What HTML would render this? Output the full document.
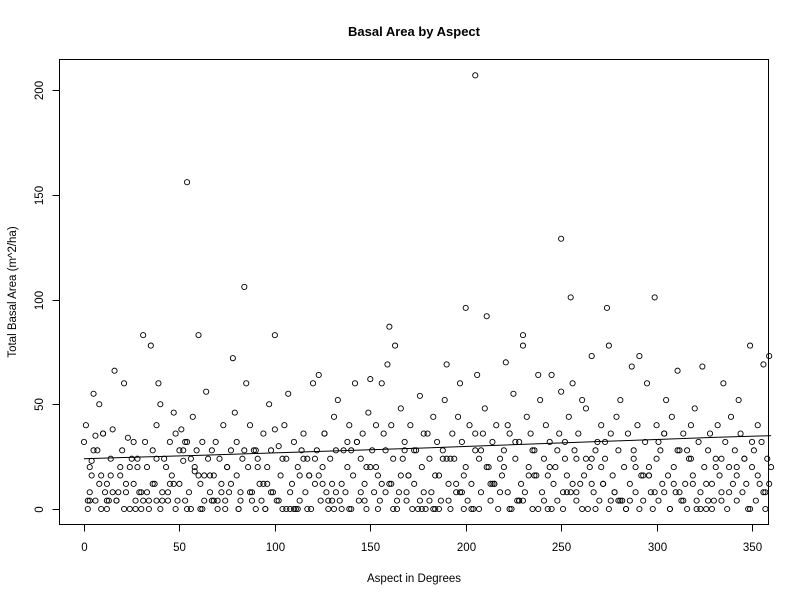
<!DOCTYPE html>
<html><head><meta charset="utf-8"><style>
html,body{margin:0;padding:0;background:#fff}
svg text{font-family:"Liberation Sans",Arial,sans-serif;fill:#000}
</style></head><body>
<svg id="chart" width="800" height="600" xmlns="http://www.w3.org/2000/svg">
<rect x="0" y="0" width="800" height="600" fill="#fff"/>
<text x="414" y="36" text-anchor="middle" font-size="13" font-weight="bold">Basal Area by Aspect</text>
<text x="414" y="582" text-anchor="middle" font-size="11.5">Aspect in Degrees</text>
<text transform="translate(16,292) rotate(-90)" text-anchor="middle" font-size="11.5">Total Basal Area (m^2/ha)</text>
<rect x="59.5" y="59.5" width="709" height="465" fill="none" stroke="#000" stroke-width="1"/>
<g id="xaxis"></g>
<g id="yaxis"></g>
<g id="points"></g>
<g id="trend"></g>
</svg>
<script>
const xTicks=[0,50,100,150,200,250,300,350];
const yTicks=[0,50,100,150,200];
const aspectX=[
0,1,2,3,3,4,5,6,6,7,8,9,10,11,12,12,13,14,15,16,17,18,19,20,21,22,23,24,25,26,27,28,29,30,31,31,32,33,34,35,36,37,38,38,39,40,
41,42,43,44,45,46,47,48,49,50,50,51,52,53,54,54,55,56,57,58,59,60,61,62,62,63,64,65,66,67,68,69,70,71,72,73,74,75,76,77,78,79,80,81,82,83,84,85,86,87,88,89,90,
91,92,93,94,95,96,97,98,99,100,100,101,102,103,104,105,106,107,108,109,110,111,112,113,114,115,116,117,118,119,120,121,122,123,124,125,126,127,128,129,130,131,132,133,134,135,
136,137,138,139,140,141,142,143,144,145,146,147,148,149,150,151,152,153,154,155,156,157,158,159,160,160,161,162,163,164,165,166,167,168,169,170,171,172,173,174,175,176,177,178,179,180,
181,182,183,184,185,186,187,188,189,190,191,192,193,194,195,196,197,198,199,200,200,201,202,203,204,205,205,206,207,208,209,210,211,212,213,214,215,216,217,218,219,220,221,222,223,224,225,
226,227,228,229,230,230,231,232,233,234,235,236,237,238,239,240,241,242,243,244,245,246,247,248,249,250,250,251,252,253,254,255,255,256,257,258,259,260,261,262,263,264,265,266,267,268,269,270,
271,272,273,274,275,275,276,277,278,279,280,281,282,283,284,285,286,287,288,289,290,291,292,293,294,295,296,297,298,299,300,300,301,302,303,304,305,306,307,308,309,310,311,312,313,314,315,
316,317,318,319,320,321,322,323,324,325,326,327,328,329,330,331,332,333,334,335,336,337,338,339,340,341,342,343,344,345,346,347,348,349,350,351,352,353,354,355,356,357,358,359,360,
2,8,14,22,28,36,44,52,58,66,72,80,88,94,104,112,118,126,132,140,148,156,164,170,178,186,192,198,208,214,222,228,236,244,252,258,266,272,280,288,296,304,312,318,326,334,342,350,356,
5,12,19,26,33,41,48,56,63,70,77,84,91,98,106,113,121,128,135,143,150,158,166,173,181,188,195,203,211,218,226,233,241,248,256,263,271,278,286,293,301,309,316,323,331,338,346,353,359,
4,10,17,24,30,38,45,53,60,68,75,82,90,96,108,115,123,130,138,145,153,161,168,176,184,190,197,205,213,220,228,235,243,251,258,266,273,281,289,296,304,311,319,327,334,342,349,357,
3,9,15,21,27,34,40,47,54,61,67,74,81,87,95,102,110,117,125,131,139,147,154,162,169,177,183,191,199,207,215,223,230,238,245,253,261,268,276,284,291,299,307,314,321,329,337,345,352
];
const basalY=[
32,40,0,8,20,23,55,35,4,28,50,16,36,8,12,0,4,24,38,66,4,8,20,28,60,12,34,0,24,32,4,20,8,0,83,4,32,8,0,78,28,12,40,4,60,50,
4,24,20,8,32,16,46,36,4,28,12,38,23,4,156,32,8,0,44,18,28,83,12,32,0,4,56,24,8,28,16,32,0,24,12,40,4,20,8,28,72,46,16,0,4,24,106,60,20,40,8,28,0,
24,12,4,36,0,20,50,28,8,38,83,4,30,16,0,40,24,55,8,12,32,0,20,4,28,36,8,24,16,0,60,12,28,64,4,20,36,8,0,24,12,44,28,52,4,0,
28,8,20,40,0,16,60,32,4,24,36,12,0,46,62,28,8,40,16,4,60,36,28,69,12,87,40,24,78,0,8,48,24,32,4,16,40,0,12,28,0,54,20,8,0,36,
24,8,44,0,32,16,4,28,52,69,12,0,36,24,8,44,60,32,16,96,20,4,40,12,0,207,28,64,24,8,36,48,92,20,4,32,12,40,0,24,16,28,70,8,36,0,55,
24,4,32,12,78,83,8,44,20,36,0,28,16,64,52,8,24,40,0,32,64,12,20,4,36,129,56,0,24,16,44,101,8,60,28,4,36,12,52,16,48,0,20,73,8,28,32,
4,40,12,24,96,78,0,36,16,8,44,28,52,4,20,0,36,12,68,24,8,40,73,16,4,32,60,20,8,0,101,24,40,4,28,12,36,52,16,0,44,20,8,66,28,4,36,
12,0,24,40,16,48,4,32,8,68,20,0,28,36,12,4,24,40,16,8,60,32,0,20,44,12,28,4,52,36,8,24,12,0,78,20,28,4,40,12,32,69,8,24,73,
20,4,12,16,8,24,12,4,28,20,16,8,32,4,12,24,0,16,36,8,28,20,12,4,16,36,0,24,8,28,12,40,4,16,20,32,8,24,12,4,28,16,36,8,24,12,4,20,32,
8,28,4,16,12,20,8,0,24,16,4,12,28,20,8,0,16,24,4,12,32,20,8,16,28,4,24,12,0,20,8,32,16,4,28,12,24,20,8,4,16,32,12,28,0,20,8,24,16,
12,16,36,4,20,8,24,12,32,16,4,20,8,28,12,0,24,16,4,32,8,20,12,28,4,16,24,8,36,12,20,4,28,16,8,24,12,32,4,20,16,8,28,12,4,24,16,
0,0,4,0,8,0,0,4,0,12,0,0,4,0,0,8,0,4,0,0,12,0,0,4,0,0,8,0,0,4,0,0,12,0,4,0,0,8,0,0,4,0,0,8,0,4,0,0
];
const trendX=[0,30,60,90,120,150,180,210,240,270,300,330,360];
const trendY=[24,24.8,25.6,26.5,27.4,28.3,29.2,30.2,31.2,32.2,33.2,34.2,35];

const xs=v=>84+v*(752-84)/350;
const ys=v=>509-v*(509-90)/200;
const NS='http://www.w3.org/2000/svg';
function mk(tag,attrs,parent){const e=document.createElementNS(NS,tag);for(const k in attrs)e.setAttribute(k,attrs[k]);parent.appendChild(e);return e;}
const xa=document.getElementById('xaxis'),ya=document.getElementById('yaxis'),pg=document.getElementById('points'),tg=document.getElementById('trend');
mk('line',{x1:xs(xTicks[0]),x2:xs(xTicks[xTicks.length-1]),y1:524.5,y2:524.5,stroke:'#000'},xa);
xTicks.forEach(t=>{const x=Math.round(xs(t))+0.5;
 mk('line',{x1:x,x2:x,y1:524.5,y2:531.5,stroke:'#000'},xa);
 const tx=mk('text',{x:x,y:551,'text-anchor':'middle','font-size':'11.5'},xa);tx.textContent=t;
 
 
});
mk('line',{x1:59.5,x2:59.5,y1:ys(yTicks[0]),y2:ys(yTicks[yTicks.length-1]),stroke:'#000'},ya);
yTicks.forEach(t=>{const y=Math.round(ys(t))+0.5;
 mk('line',{x1:52.5,x2:59.5,y1:y,y2:y,stroke:'#000'},ya);
 const tx=mk('text',{transform:`translate(43,${y}) rotate(-90)`,'text-anchor':'middle','font-size':'11.5'},ya);tx.textContent=t;
 
 
});
const n=Math.min(aspectX.length,basalY.length);
for(let i=0;i<n;i++){
 const c=mk('circle',{cx:xs(aspectX[i]),cy:ys(basalY[i]),r:2.6,fill:'none',stroke:'#000','stroke-width':'0.9'},pg);
 
 
}
const p=mk('polyline',{points:trendX.map((v,i)=>xs(v)+','+ys(trendY[i])).join(' '),fill:'none',stroke:'#000','stroke-width':'1'},tg);


</script>
</body></html>
